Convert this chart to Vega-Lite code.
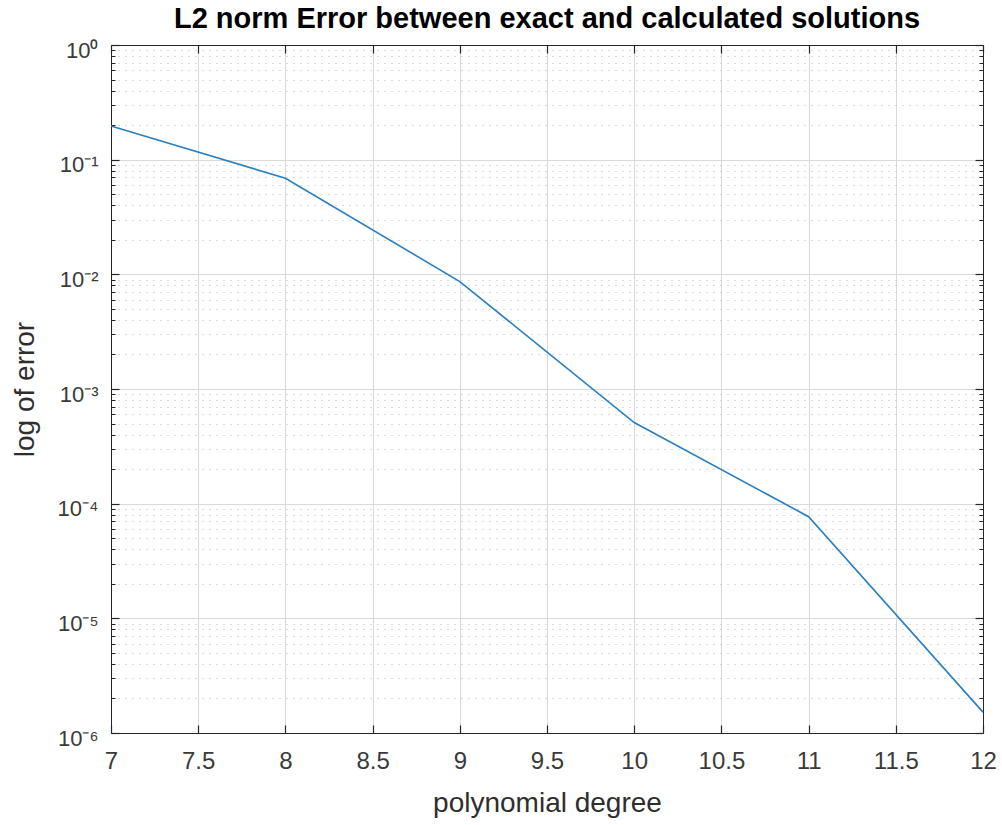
{
  "$schema": "https://vega.github.io/schema/vega-lite/v6.json",
  "width": 872,
  "height": 688,
  "autosize": {"type": "none"},
  "padding": {"left": 111, "top": 45, "right": 19, "bottom": 92},
  "background": "#ffffff",
  "config": {
    "font": "Liberation Sans",
    "view": {"stroke": null},
    "axis": {
      "labelFont": "Liberation Sans",
      "titleFont": "Liberation Sans",
      "labelColor": "#3a3a3a",
      "titleColor": "#2e2e2e",
      "domainColor": "#262626",
      "tickColor": "#262626",
      "labelFontSize": 24,
      "titleFontSize": 28,
      "titleFontWeight": "normal"
    }
  },
  "title": {
    "text": "L2 norm Error between exact and calculated solutions",
    "font": "Liberation Sans",
    "fontSize": 29,
    "fontWeight": "bold",
    "color": "#000000",
    "anchor": "middle",
    "offset": 5
  },
  "data": {
    "values": [
      {"degree": 7, "error": 0.197},
      {"degree": 8, "error": 0.0689},
      {"degree": 9, "error": 0.00865},
      {"degree": 10, "error": 0.00051},
      {"degree": 11, "error": 0.000077},
      {"degree": 12, "error": 0.00000152}
    ]
  },
  "resolve": {"axis": {"x": "independent", "y": "independent"}},
  "layer": [
    {
      "mark": {"type": "line", "strokeOpacity": 0},
      "encoding": {
        "x": {
          "field": "degree", "type": "quantitative",
          "scale": {"domain": [7, 12], "nice": false, "zero": false},
          "axis": {
            "orient": "top", "values": [7, 7.5, 8, 8.5, 9, 9.5, 10, 10.5, 11, 11.5, 12],
            "labels": false, "title": null, "grid": false, "domain": true,
            "tickSize": -8, "tickWidth": 1.2
          }
        },
        "y": {
          "field": "error", "type": "quantitative",
          "scale": {"type": "log", "domain": [0.000001, 1], "nice": false},
          "axis": {
            "orient": "left",
            "values": [2e-6, 3e-6, 4e-6, 5e-6, 6e-6, 7e-6, 8e-6, 9e-6,
                       2e-5, 3e-5, 4e-5, 5e-5, 6e-5, 7e-5, 8e-5, 9e-5,
                       2e-4, 3e-4, 4e-4, 5e-4, 6e-4, 7e-4, 8e-4, 9e-4,
                       2e-3, 3e-3, 4e-3, 5e-3, 6e-3, 7e-3, 8e-3, 9e-3,
                       2e-2, 3e-2, 4e-2, 5e-2, 6e-2, 7e-2, 8e-2, 9e-2,
                       2e-1, 3e-1, 4e-1, 5e-1, 6e-1, 7e-1, 8e-1, 9e-1],
            "labels": false, "title": null, "domain": false,
            "grid": true, "gridColor": "#b8b8b8", "gridDash": [1, 6], "gridWidth": 1,
            "tickSize": -4, "tickWidth": 1
          }
        }
      }
    },
    {
      "mark": {"type": "line", "strokeOpacity": 0},
      "encoding": {
        "x": {"field": "degree", "type": "quantitative", "axis": null},
        "y": {
          "field": "error", "type": "quantitative",
          "axis": {
            "orient": "right",
            "values": [2e-6, 3e-6, 4e-6, 5e-6, 6e-6, 7e-6, 8e-6, 9e-6,
                       2e-5, 3e-5, 4e-5, 5e-5, 6e-5, 7e-5, 8e-5, 9e-5,
                       2e-4, 3e-4, 4e-4, 5e-4, 6e-4, 7e-4, 8e-4, 9e-4,
                       2e-3, 3e-3, 4e-3, 5e-3, 6e-3, 7e-3, 8e-3, 9e-3,
                       2e-2, 3e-2, 4e-2, 5e-2, 6e-2, 7e-2, 8e-2, 9e-2,
                       2e-1, 3e-1, 4e-1, 5e-1, 6e-1, 7e-1, 8e-1, 9e-1],
            "labels": false, "title": null, "domain": false, "grid": false,
            "tickSize": -4, "tickWidth": 1
          }
        }
      }
    },
    {
      "mark": {"type": "line", "strokeOpacity": 0},
      "encoding": {
        "x": {"field": "degree", "type": "quantitative", "axis": null},
        "y": {
          "field": "error", "type": "quantitative",
          "axis": {
            "orient": "right",
            "values": [1e-6, 1e-5, 1e-4, 1e-3, 1e-2, 1e-1, 1],
            "labels": false, "title": null, "domain": true, "grid": false,
            "tickSize": -8, "tickWidth": 1.2
          }
        }
      }
    },
    {
      "mark": {"type": "line", "color": "#2a7fc0", "strokeWidth": 1.6},
      "encoding": {
        "x": {
          "field": "degree", "type": "quantitative",
          "axis": {
            "orient": "bottom", "values": [7, 7.5, 8, 8.5, 9, 9.5, 10, 10.5, 11, 11.5, 12],
            "format": "~g",
            "title": "polynomial degree", "titlePadding": 16,
            "grid": true, "gridColor": "#dadada", "gridWidth": 1,
            "domain": true, "tickSize": -8, "tickWidth": 1.2,
            "labelPadding": 24, "labelFlush": false
          }
        },
        "y": {
          "field": "error", "type": "quantitative",
          "axis": {
            "orient": "left",
            "values": [1e-6, 1e-5, 1e-4, 1e-3, 1e-2, 1e-1, 1],
            "labelExpr": "datum.value >= 0.5 ? '10⁰' : '10⁻' + ['⁰','¹','²','³','⁴','⁵','⁶'][round(-log(datum.value)/LN10)]",
            "labelFontSize": 22,
            "title": "log of error", "titlePadding": 18,
            "grid": true, "gridColor": "#dadada", "gridWidth": 1,
            "domain": true, "tickSize": -8, "tickWidth": 1.2,
            "labelPadding": 21, "labelOffset": 5, "labelFlush": false
          }
        }
      }
    }
  ]
}
